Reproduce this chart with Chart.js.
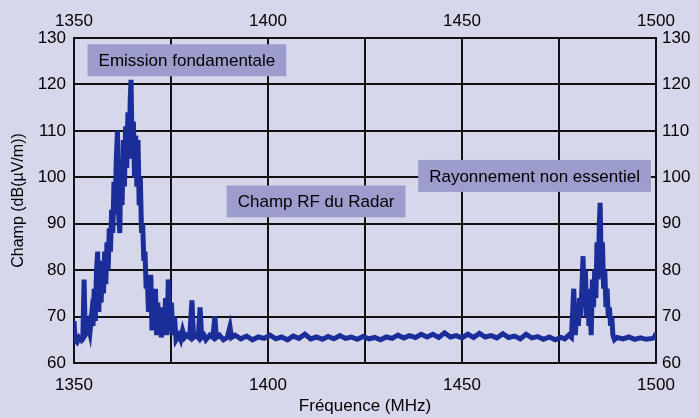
<!DOCTYPE html>
<html>
<head>
<meta charset="utf-8">
<script src="https://cdn.jsdelivr.net/npm/chart.js@4/dist/chart.umd.min.js"></script>
<style>
  body { margin: 0; background: #d7d7eb; }
  #wrap { width: 699px; height: 418px; }
</style>
</head>
<body>
<div id="wrap"><canvas id="radarChart" width="699" height="418"></canvas></div>
<script>
// frequency (MHz) and field strength (dB(µV/m))
const freqs = [
    1350.0, 1350.3, 1350.8, 1351.3, 1351.8, 1352.3, 1352.6, 1352.9, 1353.3, 1353.7,
    1354.1, 1354.5, 1354.9, 1355.2, 1355.5, 1355.8, 1356.1, 1356.4, 1356.7, 1357.0,
    1357.3, 1357.6, 1357.9, 1358.2, 1358.5, 1358.8, 1359.1, 1359.4, 1359.7, 1360.0,
    1360.3, 1360.6, 1360.9, 1361.2, 1361.5, 1361.8, 1362.1, 1362.4, 1362.7, 1363.0,
    1363.3, 1363.6, 1363.9, 1364.2, 1364.5, 1364.7, 1365.0, 1365.3, 1365.6, 1365.9,
    1366.2, 1366.5, 1366.8, 1367.1, 1367.4, 1367.7, 1368.0, 1368.3, 1368.6, 1368.9,
    1369.2, 1369.5, 1369.8, 1370.1, 1370.4, 1370.7, 1371.0, 1371.3, 1371.6, 1371.9,
    1372.2, 1372.5, 1372.9, 1373.2, 1373.6, 1374.0, 1374.3, 1374.7, 1375.1, 1375.5,
    1375.9, 1376.3, 1377.0, 1377.5, 1378.0, 1378.5, 1379.0, 1379.8, 1380.4, 1380.8,
    1381.5, 1382.0, 1382.5, 1382.9, 1383.5, 1384.0, 1385.0, 1385.8, 1386.3, 1386.7,
    1387.5, 1388.5, 1389.5, 1390.2, 1390.6, 1391.5, 1393.0, 1394.5, 1396.0, 1397.5,
    1399.0, 1400.5, 1402.0, 1403.5, 1405.0, 1406.5, 1408.0, 1409.5, 1411.0, 1412.5,
    1414.0, 1415.5, 1417.0, 1418.5, 1420.0, 1421.5, 1423.0, 1424.5, 1426.0, 1427.5,
    1429.0, 1430.5, 1432.0, 1433.5, 1435.0, 1436.5, 1438.0, 1439.5, 1441.0, 1442.5,
    1444.0, 1445.5, 1447.0, 1448.5, 1450.0, 1451.5, 1453.0, 1454.5, 1456.0, 1457.5,
    1459.0, 1460.5, 1462.0, 1463.5, 1465.0, 1466.5, 1468.0, 1469.5, 1471.0, 1472.5,
    1474.0, 1475.5, 1476.5, 1477.5, 1478.2, 1478.8, 1479.2, 1479.6, 1480.0, 1480.3,
    1480.6, 1480.9, 1481.2, 1481.5, 1481.8, 1482.1, 1482.4, 1482.7, 1483.0, 1483.3,
    1483.6, 1483.9, 1484.2, 1484.5, 1484.8, 1485.1, 1485.4, 1485.6, 1485.9, 1486.2,
    1486.5, 1486.8, 1487.1, 1487.4, 1487.7, 1488.0, 1488.3, 1488.6, 1488.9, 1489.3,
    1490.0, 1491.5, 1493.0, 1494.5, 1496.0, 1497.5, 1499.0, 1499.7, 1500.0
];
const levels = [
    69.0, 65.0, 64.5, 65.5, 65.0, 66.0, 78.0, 66.0, 66.5, 68.0,
    66.5, 70.0, 68.0, 76.0, 69.0, 80.0, 84.0, 71.0, 80.0, 73.0,
    82.0, 75.0, 84.0, 77.0, 86.0, 80.0, 89.0, 84.0, 93.0, 88.0,
    99.0, 92.0, 104.0, 110.0, 92.0, 88.0, 104.0, 94.0, 108.0, 98.0,
    111.0, 102.0, 114.0, 104.0, 117.0, 121.0, 104.0, 112.0, 100.0, 109.0,
    98.0, 108.0, 94.0, 100.0, 88.0, 90.0, 82.0, 84.0, 76.0, 78.0,
    71.0, 74.0, 79.0, 67.0, 75.0, 68.0, 76.0, 66.0, 73.0, 67.0,
    72.0, 65.5, 70.0, 66.0, 74.0, 66.0, 78.0, 67.0, 73.0, 66.0,
    70.0, 65.0, 66.0, 65.0, 67.0, 65.5, 66.0, 65.5, 73.5, 65.5,
    66.0, 65.5, 72.0, 65.5, 66.0, 65.0, 66.0, 65.5, 70.0, 65.5,
    66.0, 65.0, 65.5, 67.8, 65.5, 66.0, 65.2, 65.8, 65.0, 65.6,
    65.3, 66.0, 65.2, 65.6, 65.0, 65.8, 65.3, 66.2, 65.2, 65.6,
    65.1, 65.7, 65.2, 65.9, 65.3, 65.6, 65.1, 65.7, 65.2, 65.5,
    65.0, 65.6, 65.3, 66.0, 65.4, 65.9, 65.5, 66.2, 65.6, 66.2,
    65.5, 66.5, 65.6, 65.9, 65.4, 66.2, 65.5, 66.4, 65.6, 65.9,
    65.4, 66.3, 65.5, 65.8, 65.2, 66.2, 65.4, 65.7, 65.1, 65.6,
    65.0, 65.5, 65.2, 66.0, 65.5, 76.0, 66.0, 71.0, 68.0, 74.0,
    70.0, 76.0, 83.0, 72.0, 80.0, 70.0, 76.0, 68.0, 72.0, 66.0,
    78.0, 72.0, 80.0, 74.0, 86.0, 78.0, 90.0, 94.5, 80.0, 86.0,
    76.0, 80.0, 72.0, 76.0, 70.0, 72.0, 68.0, 70.0, 66.0, 65.0,
    65.5, 65.2, 65.6, 65.1, 65.4, 65.1, 65.3, 65.5, 66.5
];

const freqTicks = [1350, 1400, 1450, 1500];
const levelTicks = [60, 70, 80, 90, 100, 110, 120, 130];

const callouts = [
    { text: "Emission fondamentale", x: 1379.1, y: 125.2 },
    { text: "Champ RF du Radar", x: 1412.4, y: 94.8 },
    { text: "Rayonnement non essentiel", x: 1468.7, y: 100.3 },
];

const bgPlugin = {
    id: "bg",
    beforeDraw(chart) {
        const c = chart.ctx;
        c.save();
        c.fillStyle = "#d7d7eb";
        c.fillRect(0, 0, chart.width, chart.height);
        c.restore();
    },
};

const calloutPlugin = {
    id: "callouts",
    afterDatasetsDraw(chart) {
        const c = chart.ctx;
        const sx = chart.scales.x, sy = chart.scales.y;
        c.save();
        c.font = "17px 'Liberation Sans', Arial, sans-serif";
        c.textAlign = "center";
        c.textBaseline = "middle";
        callouts.forEach(function (a) {
            const px = sx.getPixelForValue(a.x);
            const py = sy.getPixelForValue(a.y);
            const w = c.measureText(a.text).width + 22;
            const h = 32;
            c.fillStyle = "#9d9dcd";
            c.fillRect(px - w / 2, py - h / 2, w, h);
            c.fillStyle = "#000";
            c.fillText(a.text, px, py + 1);
        });
        c.restore();
    },
};

function fixedWidth(w) { return function (s) { s.width = w; }; }
function fixedHeight(h) { return function (s) { s.height = h; }; }

function renderRadarChart() {
    const ctx = document.getElementById("radarChart").getContext("2d");
    Chart.defaults.font.family = "'Liberation Sans', Arial, sans-serif";
    Chart.defaults.font.size = 17;
    Chart.defaults.color = "#000";

    const points = freqs.map(function (f, i) { return { x: f, y: levels[i] }; });

    const gridStyle = { color: "#111", lineWidth: 2, drawTicks: false };
    const borderStyle = { color: "#111", width: 2 };

    new Chart(ctx, {
        type: "line",
        data: {
            datasets: [
                {
                    label: "Champ RF du Radar",
                    data: points,
                    borderColor: "#1b2d98",
                    borderWidth: 5,
                    pointRadius: 0,
                    tension: 0,
                    fill: false,
                },
            ],
        },
        options: {
            responsive: false,
            animation: false,
            layout: { padding: 0 },
            plugins: {
                legend: { display: false },
                tooltip: { enabled: false },
            },
            scales: {
                x: {
                    type: "linear",
                    position: "bottom",
                    min: 1350,
                    max: 1500,
                    grid: gridStyle,
                    border: borderStyle,
                    afterFit: fixedHeight(55),
                    ticks: {
                        stepSize: 25,
                        padding: 12,
                        maxRotation: 0,
                        callback: function (v) { return freqTicks.includes(v) ? String(v) : ""; },
                    },
                    title: {
                        display: true,
                        text: "Fréquence (MHz)",
                        font: { size: 17 },
                        padding: { top: 0, bottom: 1 },
                    },
                },
                x2: {
                    type: "linear",
                    position: "top",
                    min: 1350,
                    max: 1500,
                    grid: { display: false, drawTicks: false },
                    border: borderStyle,
                    afterFit: fixedHeight(38),
                    ticks: {
                        stepSize: 50,
                        padding: 6,
                        maxRotation: 0,
                        callback: function (v) { return freqTicks.includes(v) ? String(v) : ""; },
                    },
                },
                y: {
                    position: "left",
                    min: 60,
                    max: 130,
                    grid: gridStyle,
                    border: borderStyle,
                    afterFit: fixedWidth(74),
                    ticks: {
                        stepSize: 5,
                        padding: 8,
                        callback: function (v) { return levelTicks.includes(v) ? String(v) : ""; },
                    },
                    title: {
                        display: true,
                        text: "Champ (dB(µV/m))",
                        font: { size: 16 },
                        padding: { top: 9, bottom: 0 },
                    },
                },
                y2: {
                    position: "right",
                    min: 60,
                    max: 130,
                    grid: { display: false, drawTicks: false },
                    border: borderStyle,
                    afterFit: fixedWidth(43),
                    ticks: {
                        stepSize: 10,
                        padding: 6,
                        callback: function (v) { return levelTicks.includes(v) ? String(v) : ""; },
                    },
                },
            },
        },
        plugins: [bgPlugin, calloutPlugin],
    });
}

document.addEventListener("DOMContentLoaded", renderRadarChart);
</script>
</body>
</html>
